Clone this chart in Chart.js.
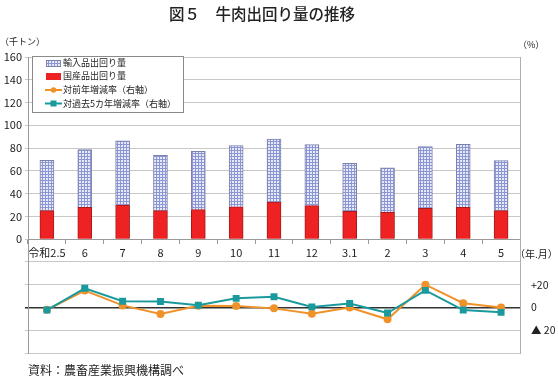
<!DOCTYPE html>
<html>
<head>
<meta charset="utf-8">
<script src="https://cdn.jsdelivr.net/npm/chart.js@4.4.1/dist/chart.umd.min.js"></script>
<style>
html,body{margin:0;padding:0;background:#fff;}
#wrap{width:558px;height:381px;position:relative;}
</style>
</head>
<body>
<div id="wrap"><canvas id="c" width="558" height="381"></canvas></div>
<script>
const categories = ['令和2.5','6','7','8','9','10','11','12','3.1','2','3','4','5'];
const importVolume = [44.3,50.7,56.3,48.7,51.2,53.8,55.3,53.5,42.2,39.2,54.3,55.2,44.1];
const domesticVolume = [25,28,30,25,26,28.5,32.5,29.5,24.5,23.5,27,28,25];
const yoyRate = [-2,14.8,1.8,-5.8,1.5,1.2,-0.8,-5.6,0,-10.4,20,3.7,0];
const fiveYearRate = [-2.3,16.8,5.5,5.2,2,8,9.4,0.5,3.5,-4.9,15,-2.3,-4.3];
const leftTicks = [0,20,40,60,80,100,120,140,160];
const rightTickLabels = {'20':'+20','0':'0','-20':'▲ 20'};
const seriesNames = ['輸入品出回り量','国産品出回り量','対前年増減率（右軸）','対過去5カ年増減率（右軸）'];
const titleText = '図５　牛肉出回り量の推移';
const sourceText = '資料：農畜産業振興機構調べ';

const FONT = "'Noto Sans CJK JP', 'Noto Sans', sans-serif";

function makePattern(){
  const p = document.createElement('canvas');
  p.width = 3; p.height = 3;
  const g = p.getContext('2d');
  g.fillStyle = '#e6e9f8'; g.fillRect(0,0,3,3);
  g.fillStyle = '#8d96d4';
  g.fillRect(0,0,3,1); g.fillRect(0,0,1,3);
  return g.createPattern(p,'repeat');
}
const ctx = document.getElementById('c').getContext('2d');
const pattern = makePattern();

const COL_RED = '#ee2222', COL_RED_B = '#a81a1a';
const COL_BLUE_B = '#7a82aa';
const COL_OR = '#f0922a', COL_TEAL = '#1a9a9c';

const annot = {
  id:'annot',
  afterDatasetsDraw(chart){
    const c = chart.ctx;
    c.save();
    const lx=32, ly=56, lw=151, lh=56;
    c.fillStyle='#fff'; c.fillRect(lx,ly,lw,lh);
    c.strokeStyle='#8a8a8a'; c.lineWidth=1; c.strokeRect(lx+0.5,ly+0.5,lw,lh);
    c.font = "9px " + FONT; c.textBaseline='middle'; c.textAlign='left';
    const rows=[63,76,90,103.5];
    c.fillStyle=pattern; c.fillRect(46,60,15,7); c.strokeStyle=COL_BLUE_B; c.strokeRect(46.5,60.5,14,6);
    c.fillStyle=COL_RED; c.fillRect(46,73,15,7);
    c.strokeStyle=COL_OR; c.lineWidth=2; c.beginPath(); c.moveTo(45,rows[2]); c.lineTo(62,rows[2]); c.stroke();
    c.fillStyle=COL_OR; c.beginPath(); c.arc(53.5,rows[2],2.8,0,Math.PI*2); c.fill();
    c.strokeStyle=COL_TEAL; c.beginPath(); c.moveTo(45,rows[3]); c.lineTo(62,rows[3]); c.stroke();
    c.fillStyle=COL_TEAL; c.fillRect(50.5,rows[3]-3,6,6);
    c.fillStyle='#222';
    chart.data.datasets.forEach((ds,i)=>{ c.fillText(seriesNames[i], 63, rows[i]); });
    c.restore();
  },
  afterDraw(chart){
    const c = chart.ctx;
    c.save();
    c.fillStyle='#222'; c.textBaseline='middle';
    c.font = "500 15.5px " + FONT; c.textAlign='center';
    c.fillText(titleText, 262, 14);
    c.font = "9px " + FONT; c.textAlign='left';
    c.fillText('（千トン）', 0, 42);
    c.fillText('（%）', 518, 45);
    c.font = "10px " + FONT;
    c.fillText('（年.月）', 515, 254);
    c.font = "12px " + FONT;
    c.fillText(sourceText, 28, 370);
    c.restore();
  }
};

new Chart(ctx, {
  data: {
    labels: categories,
    datasets: [
      {type:'bar', label: seriesNames[0], data: importVolume, backgroundColor: pattern, borderColor: COL_BLUE_B, borderWidth: 1, yAxisID:'y', stack:'s', order:3, barThickness:14},
      {type:'bar', label: seriesNames[1], data: domesticVolume, backgroundColor: COL_RED, borderColor: COL_RED_B, borderWidth: 1, yAxisID:'y', stack:'s', order:2, barThickness:14},
      {type:'line', label: seriesNames[2], data: yoyRate, borderColor: COL_OR, backgroundColor: COL_OR, borderWidth: 2, pointRadius: 3, pointStyle:'circle', yAxisID:'y2', order:1, tension:0},
      {type:'line', label: seriesNames[3], data: fiveYearRate, borderColor: COL_TEAL, backgroundColor: COL_TEAL, borderWidth: 2, pointRadius: 3.5, pointStyle:'rect', yAxisID:'y2', order:0, tension:0}
    ]
  },
  options: {
    responsive:false,
    animation:false,
    layout:{padding:{top:57,bottom:28,left:0,right:0}},
    plugins:{legend:{display:false}, tooltip:{enabled:false}, title:{display:false}},
    scales:{
      x:{
        stacked:true,
        offset:true,
        position:{y:0},
        grid:{display:true, drawOnChartArea:false, drawTicks:true, tickLength:4, color:'#9a9a9a', offset:true},
        border:{display:true, color:'#9a9a9a'},
        ticks:{font:{family:FONT,size:11}, color:'#222', padding:3, maxRotation:0, autoSkip:false}
      },
      y:{
        stacked:true,
        position:'left',
        min:-100, max:160,
        afterFit(s){ s.width = 28; },
        afterBuildTicks(s){ s.ticks = []; for(let v=-100; v<=160; v+=20) s.ticks.push({value:v}); },
        grid:{
          color:(ctx)=> ctx.tick && ctx.tick.value === -60 ? '#333' : '#c8c8c8',
          lineWidth:(ctx)=> ctx.tick && ctx.tick.value === -60 ? 1.6 : 1,
          drawTicks:true, tickLength:3
        },
        border:{display:true, color:'#9a9a9a'},
        ticks:{font:{family:FONT,size:11}, color:'#222', padding:3,
          callback:(v)=> leftTicks.includes(v) ? String(v) : ''}
      },
      y2:{
        position:'right',
        min:-40, max:220,
        afterFit(s){ s.width = 38; },
        afterBuildTicks(s){ s.ticks = []; for(let v=-40; v<=220; v+=20) s.ticks.push({value:v}); },
        grid:{drawOnChartArea:false, drawTicks:false},
        border:{display:true, color:'#b0b0b0'},
        ticks:{font:{family:FONT,size:10.5}, color:'#222', padding:11,
          callback:(v)=> rightTickLabels[String(v)] || ''}
      }
    }
  },
  plugins:[annot]
});
</script>
</body>
</html>
